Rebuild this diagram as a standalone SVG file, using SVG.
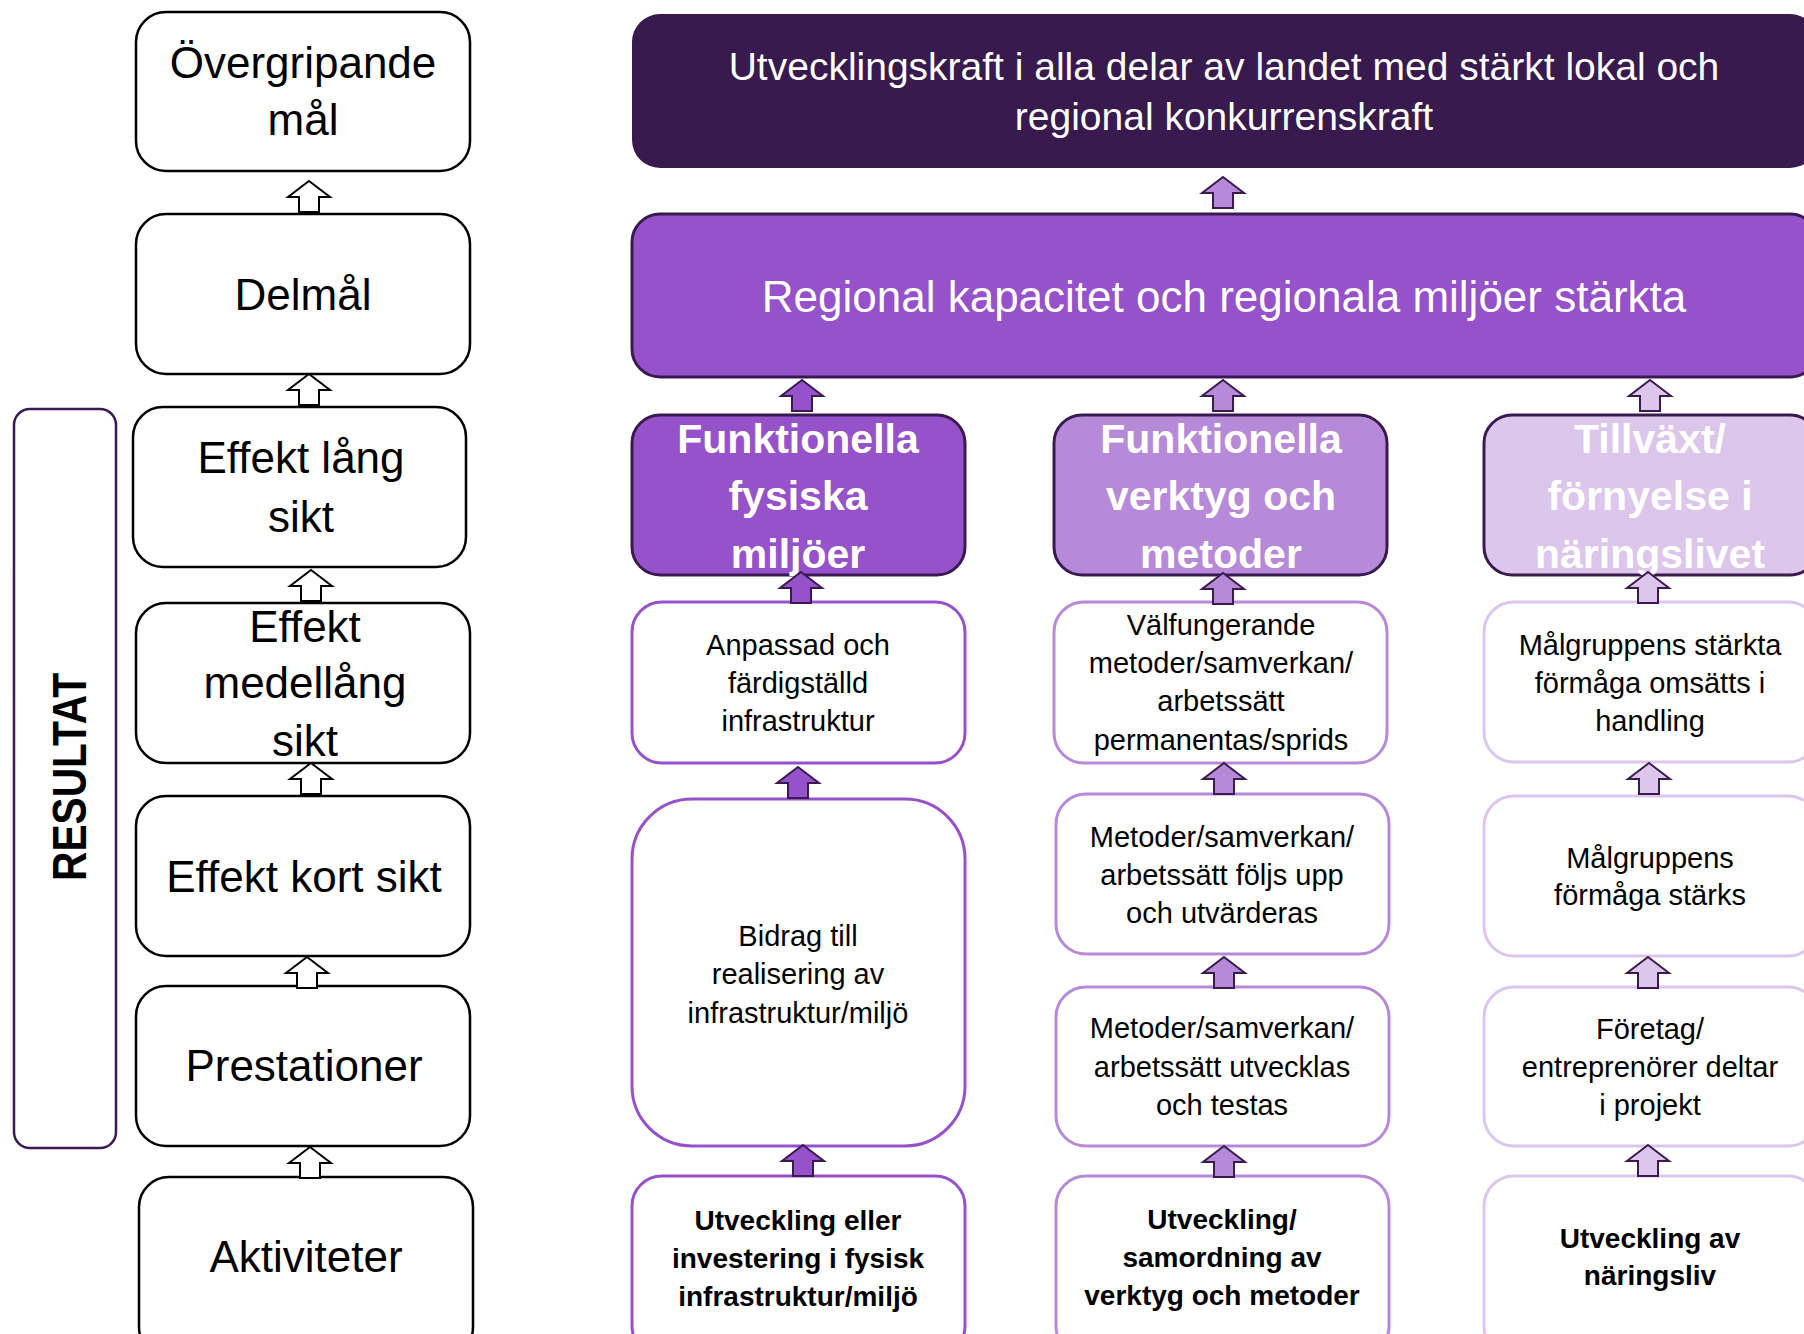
<svg xmlns="http://www.w3.org/2000/svg" xmlns:xlink="http://www.w3.org/1999/xlink" width="1804" height="1334" viewBox="0 0 1804 1334">
<style>
.lbox{fill:#ffffff;stroke:#000000;stroke-width:2.5}
.ltxt{font-family:"Liberation Sans",Arial,sans-serif;font-size:44px;fill:#000000;text-anchor:middle}
.hdr{font-family:"Liberation Sans",Arial,sans-serif;font-size:41px;font-weight:bold;fill:#ffffff;text-anchor:middle}
.body{font-family:"Liberation Sans",Arial,sans-serif;font-size:29px;fill:#000000;text-anchor:middle}
.bold{font-family:"Liberation Sans",Arial,sans-serif;font-size:28px;font-weight:bold;fill:#000000;text-anchor:middle}
.c1{stroke:#9552CB}
.c2{stroke:#B68AD9}
.c3{stroke:#DCC6EC}
.wbox{fill:#ffffff;stroke-width:3}
.arw{stroke:#3A1A4F;stroke-width:2;stroke-linejoin:miter}
.aw{fill:#ffffff;stroke:#000000;stroke-width:2}
.f1{fill:#9552CB}
.f2{fill:#B68AD9}
.f3{fill:#DCC6EC}
</style>
<defs>
<path id="up" d="M0,0 L21,16 L10,16 L10,31 L-10,31 L-10,16 L-21,16 Z"/>
</defs>
<rect width="1804" height="1334" fill="#ffffff"/>

<g id="resultat">
<rect x="14" y="409" width="102" height="739" rx="16" fill="#ffffff" stroke="#3A1A55" stroke-width="2.5"/>
<text transform="translate(86,777) rotate(-90)" x="0" y="0" font-family="Liberation Sans, Arial, sans-serif" font-size="48" font-weight="bold" text-anchor="middle" textLength="208" lengthAdjust="spacingAndGlyphs">RESULTAT</text>
</g>

<g id="n-overgripande"><rect class="lbox" x="136" y="12" width="334" height="159" rx="30"/><text class="ltxt" x="303" y="78">Övergripande</text><text class="ltxt" x="303" y="135">mål</text></g>
<g id="n-delmal"><rect class="lbox" x="136" y="214" width="334" height="160" rx="30"/><text class="ltxt" x="303" y="310">Delmål</text></g>
<g id="n-lang"><rect class="lbox" x="133" y="407" width="333" height="160" rx="30"/><text class="ltxt" x="301" y="473">Effekt lång</text><text class="ltxt" x="301" y="532">sikt</text></g>
<g id="n-medel"><rect class="lbox" x="136" y="603" width="334" height="160" rx="30"/><text class="ltxt" x="305" y="642">Effekt</text><text class="ltxt" x="305" y="698">medellång</text><text class="ltxt" x="305" y="756">sikt</text></g>
<g id="n-kort"><rect class="lbox" x="136" y="796" width="334" height="160" rx="30"/><text class="ltxt" x="304" y="892">Effekt kort sikt</text></g>
<g id="n-prest"><rect class="lbox" x="136" y="986" width="334" height="160" rx="30"/><text class="ltxt" x="304" y="1081">Prestationer</text></g>
<g id="n-akt"><rect class="lbox" x="139" y="1177" width="334" height="180" rx="30"/><text class="ltxt" x="306" y="1272">Aktiviteter</text></g>

<g id="n-top"><rect x="632" y="14" width="1186" height="154" rx="28" fill="#381A4E"/>
<text font-family="Liberation Sans, Arial, sans-serif" font-size="39" fill="#ffffff" text-anchor="middle"><tspan x="1224" y="80">Utvecklingskraft i alla delar av landet med stärkt lokal och</tspan><tspan x="1224" y="130">regional konkurrenskraft</tspan></text></g>
<g id="n-regional"><rect x="632" y="214" width="1186" height="163" rx="28" fill="#9552CB" stroke="#3A1A4F" stroke-width="3"/>
<text x="1224" y="312" font-family="Liberation Sans, Arial, sans-serif" font-size="44" fill="#ffffff" text-anchor="middle">Regional kapacitet och regionala miljöer stärkta</text></g>

<g id="h1"><rect x="632" y="415" width="333" height="160" rx="28" fill="#9552CB" stroke="#3A1A4F" stroke-width="3"/><text class="hdr" x="798" y="453">Funktionella</text><text class="hdr" x="798" y="510">fysiska</text><text class="hdr" x="798" y="568">miljöer</text></g>
<g id="h2"><rect x="1054" y="415" width="333" height="160" rx="28" fill="#B68AD9" stroke="#3A1A4F" stroke-width="3"/><text class="hdr" x="1221" y="453">Funktionella</text><text class="hdr" x="1221" y="510">verktyg och</text><text class="hdr" x="1221" y="568">metoder</text></g>
<g id="h3"><rect x="1484" y="415" width="334" height="160" rx="28" fill="#DCC6EC" stroke="#3A1A4F" stroke-width="3"/><text class="hdr" x="1650" y="453">Tillväxt/</text><text class="hdr" x="1650" y="510">förnyelse i</text><text class="hdr" x="1650" y="568">näringslivet</text></g>

<g id="c1b"><rect class="wbox c1" x="632" y="602" width="333" height="161" rx="30"/><text class="body" x="798" y="655">Anpassad och</text><text class="body" x="798" y="693">färdigställd</text><text class="body" x="798" y="731">infrastruktur</text></g>
<g id="c1c"><rect class="wbox c1" x="632" y="799" width="333" height="347" rx="60"/><text class="body" x="798" y="946">Bidrag till</text><text class="body" x="798" y="984">realisering av</text><text class="body" x="798" y="1023">infrastruktur/miljö</text></g>
<g id="c1d"><rect class="wbox c1" x="632" y="1176" width="333" height="180" rx="30"/><text class="bold" x="798" y="1230">Utveckling eller</text><text class="bold" x="798" y="1268">investering i fysisk</text><text class="bold" x="798" y="1306">infrastruktur/miljö</text></g>

<g id="c2b"><rect class="wbox c2" x="1054" y="602" width="333" height="161" rx="30"/><text class="body" x="1221" y="635">Välfungerande</text><text class="body" x="1221" y="673">metoder/samverkan/</text><text class="body" x="1221" y="711">arbetssätt</text><text class="body" x="1221" y="750">permanentas/sprids</text></g>
<g id="c2c"><rect class="wbox c2" x="1056" y="794" width="333" height="160" rx="30"/><text class="body" x="1222" y="847">Metoder/samverkan/</text><text class="body" x="1222" y="885">arbetssätt följs upp</text><text class="body" x="1222" y="923">och utvärderas</text></g>
<g id="c2d"><rect class="wbox c2" x="1056" y="987" width="333" height="159" rx="30"/><text class="body" x="1222" y="1038">Metoder/samverkan/</text><text class="body" x="1222" y="1077">arbetssätt utvecklas</text><text class="body" x="1222" y="1115">och testas</text></g>
<g id="c2e"><rect class="wbox c2" x="1056" y="1176" width="333" height="180" rx="30"/><text class="bold" x="1222" y="1229">Utveckling/</text><text class="bold" x="1222" y="1267">samordning av</text><text class="bold" x="1222" y="1305">verktyg och metoder</text></g>

<g id="c3b"><rect class="wbox c3" x="1484" y="602" width="334" height="160" rx="30"/><text class="body" x="1650" y="655">Målgruppens stärkta</text><text class="body" x="1650" y="693">förmåga omsätts i</text><text class="body" x="1650" y="731">handling</text></g>
<g id="c3c"><rect class="wbox c3" x="1484" y="796" width="334" height="160" rx="30"/><text class="body" x="1650" y="868">Målgruppens</text><text class="body" x="1650" y="905">förmåga stärks</text></g>
<g id="c3d"><rect class="wbox c3" x="1484" y="987" width="334" height="159" rx="30"/><text class="body" x="1650" y="1039">Företag/</text><text class="body" x="1650" y="1077">entreprenörer deltar</text><text class="body" x="1650" y="1115">i projekt</text></g>
<g id="c3e"><rect class="wbox c3" x="1484" y="1176" width="334" height="180" rx="30"/><text class="bold" x="1650" y="1248">Utveckling av</text><text class="bold" x="1650" y="1285">näringsliv</text></g>

<g id="connectors">
<use href="#up" class="aw" x="309" y="181"/>
<use href="#up" class="aw" x="309" y="374"/>
<use href="#up" class="aw" x="311" y="570"/>
<use href="#up" class="aw" x="311" y="763"/>
<use href="#up" class="aw" x="307" y="957"/>
<use href="#up" class="aw" x="310" y="1147"/>
<use href="#up" class="arw f2" x="1223" y="177"/>
<use href="#up" class="arw f1" x="802" y="380"/>
<use href="#up" class="arw f2" x="1223" y="380"/>
<use href="#up" class="arw f3" x="1650" y="380"/>
<use href="#up" class="arw f1" x="801" y="572"/>
<use href="#up" class="arw f2" x="1223" y="573"/>
<use href="#up" class="arw f3" x="1648" y="572"/>
<use href="#up" class="arw f1" x="798" y="767"/>
<use href="#up" class="arw f2" x="1224" y="763"/>
<use href="#up" class="arw f3" x="1649" y="763"/>
<use href="#up" class="arw f1" x="803" y="1145"/>
<use href="#up" class="arw f2" x="1224" y="957"/>
<use href="#up" class="arw f3" x="1648" y="957"/>
<use href="#up" class="arw f2" x="1224" y="1146"/>
<use href="#up" class="arw f3" x="1648" y="1145"/>
</g>
</svg>
